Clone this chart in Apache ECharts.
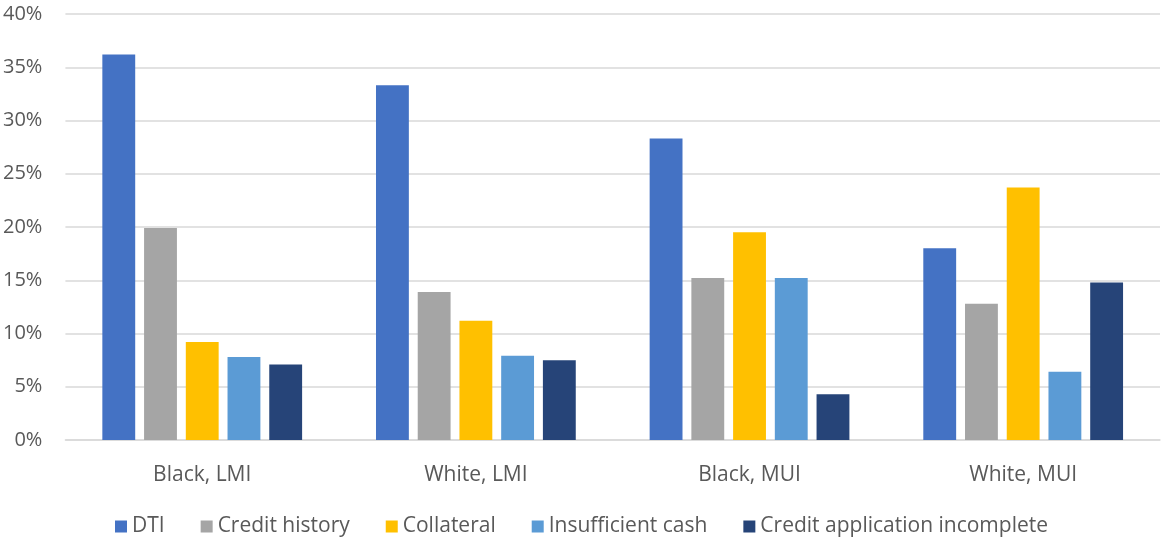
<!DOCTYPE html>
<html><head><meta charset="utf-8">
<script src="https://cdn.jsdelivr.net/npm/echarts@6/dist/echarts.min.js"></script>
<style>html,body{margin:0;padding:0;background:#fff;}#c{width:1163px;height:537px;}</style>
</head><body><div id="c"></div>
<script>
const categories = ['Black, LMI', 'White, LMI', 'Black, MUI', 'White, MUI'];
const seriesNames = ['DTI', 'Credit history', 'Collateral', 'Insufficient cash', 'Credit application incomplete'];
const dti = [36.2, 33.3, 28.3, 18.0];
const creditHistory = [19.9, 13.9, 15.2, 12.8];
const collateral = [9.2, 11.2, 19.5, 23.7];
const insufficientCash = [7.8, 7.9, 15.2, 6.4];
const creditIncomplete = [7.1, 7.5, 4.3, 14.8];
const colors = ['#4472C4', '#A5A5A5', '#FFC000', '#5B9BD5', '#264478'];
const yTicks = [0, 5, 10, 15, 20, 25, 30, 35, 40];

const values = [dti, creditHistory, collateral, insufficientCash, creditIncomplete];
const chart = echarts.init(document.getElementById('c'));
const font = 'Open Sans, Liberation Sans, sans-serif';
chart.setOption({
  animation: false,
  color: colors,
  textStyle: { fontFamily: font },
  grid: { left: 64, right: 3, top: 14, bottom: 97, containLabel: false },
  legend: {
    top: 511, left: 'center', itemWidth: 12, itemHeight: 12, itemGap: 36,
    icon: 'rect',
    textStyle: { color: '#595959', fontSize: 21, fontFamily: font },
    data: seriesNames
  },
  xAxis: {
    type: 'category', data: categories,
    axisLine: { lineStyle: { color: '#D9D9D9', width: 1.5 } },
    axisTick: { show: false },
    axisLabel: { color: '#595959', fontSize: 21, margin: 25, fontFamily: font }
  },
  yAxis: {
    type: 'value', min: yTicks[0], max: yTicks[yTicks.length - 1], interval: 5,
    axisLine: { show: false }, axisTick: { show: false },
    axisLabel: { color: '#595959', fontSize: 20, margin: 23, formatter: v => v + '%', fontFamily: font },
    splitLine: { lineStyle: { color: '#D9D9D9', width: 1.5 } }
  },
  series: seriesNames.map((n, i) => ({
    name: n, type: 'bar', data: values[i],
    barGap: '27%', barCategoryGap: '27%'
  }))
});
</script></body></html>
